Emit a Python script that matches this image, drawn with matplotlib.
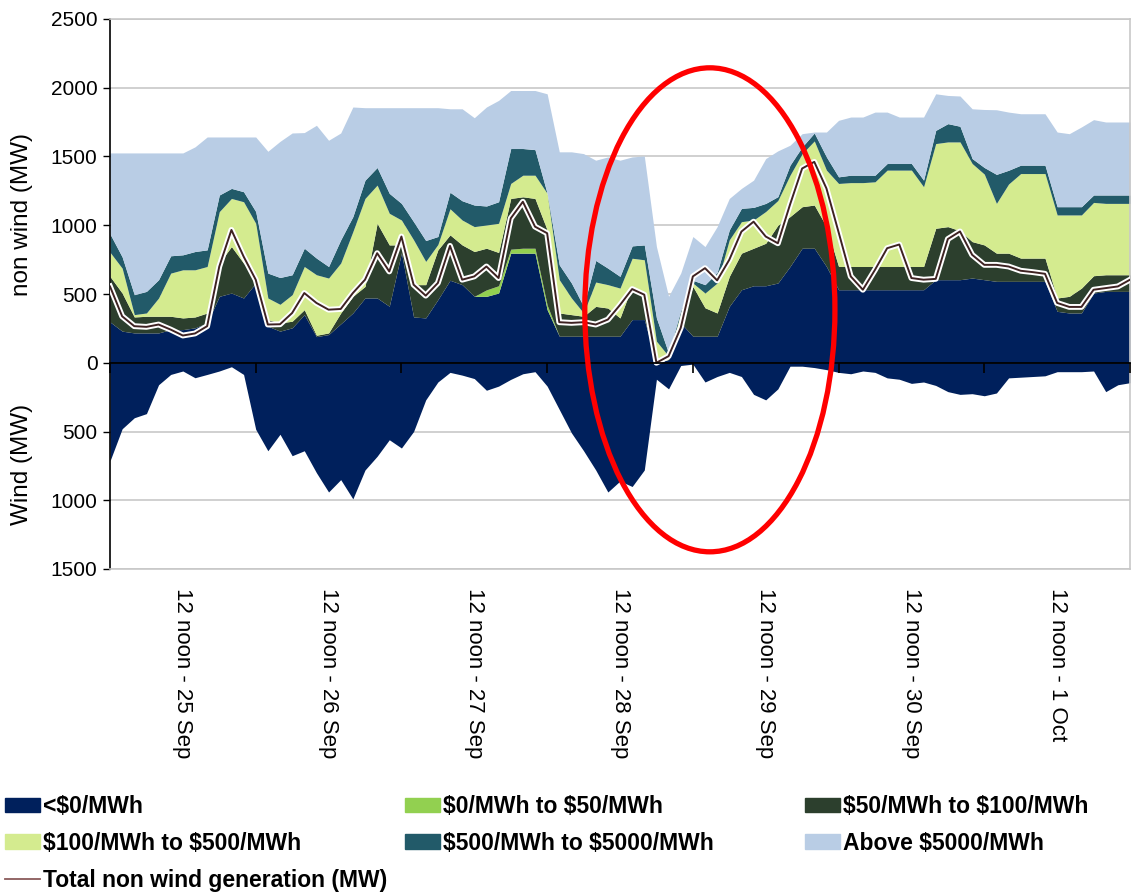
import numpy as np
import matplotlib
matplotlib.use("Agg")
import matplotlib.pyplot as plt
from matplotlib.patches import Patch, Ellipse
from matplotlib.lines import Line2D

plt.rcParams['font.family'] = ['Liberation Sans', 'DejaVu Sans']

# hours from 00:00 25 Sep, 2-hourly
hours = np.arange(0, 169, 2)

# cumulative tops of the offer bands (MW)
top_lt0 = [297,230,217,217,217,241,241,254,290,483,507,471,580,266,230,254,350,190,205,283,
           362,471,471,411,800,333,326,459,600,568,483,483,507,797,797,797,386,193,193,193,
           193,193,193,314,314,0,24,290,193,193,193,410,531,560,560,580,700,833,833,700,
           531,531,531,531,531,531,531,531,604,604,604,616,604,592,592,592,592,592,374,362,
           362,507,519,519,519]
top_0_50 = [297,230,217,217,217,241,241,254,290,483,507,471,580,266,230,254,350,190,205,283,
            362,471,471,411,800,333,326,459,600,568,483,530,560,826,833,833,420,193,193,193,
            193,193,193,314,314,0,24,290,193,193,193,410,531,560,560,580,700,833,833,700,
            531,531,531,531,531,531,531,531,604,604,604,616,604,592,592,592,592,592,374,362,
            362,507,519,519,519]
top_50_100 = [628,507,333,338,338,338,326,333,362,725,845,725,640,314,290,302,386,200,217,362,
              483,555,1014,857,857,568,568,821,930,857,809,833,802,1195,1207,1195,966,362,350,338,
              410,398,326,560,507,0,24,300,555,400,362,628,797,833,869,1000,1063,1135,1147,990,
              700,700,700,700,700,700,700,700,978,990,960,881,857,797,797,761,761,761,471,483,
              543,633,640,640,640]
top_100_500 = [804,688,350,362,471,652,676,676,700,1099,1195,1171,1014,471,425,495,700,640,616,725,
               954,1195,1292,1087,1038,894,737,860,1120,1038,990,1002,1014,1304,1364,1364,1232,604,471,362,
               587,568,543,760,749,157,48,362,580,507,580,894,1026,1038,1100,1180,1364,1521,1613,1401,
               1304,1310,1310,1316,1401,1401,1401,1280,1594,1606,1606,1449,1372,1159,1300,1376,1376,1376,1075,1075,
               1075,1166,1159,1159,1159]
top_500_5000 = [937,770,495,519,604,778,785,809,821,1220,1268,1244,1100,652,620,640,833,761,700,894,
                1063,1328,1420,1232,1159,1026,889,918,1240,1178,1147,1140,1171,1558,1558,1550,1183,712,580,410,
                744,688,628,850,857,326,70,380,600,568,657,966,1123,1130,1159,1208,1437,1570,1671,1497,
                1352,1364,1364,1364,1449,1449,1449,1328,1690,1739,1720,1485,1420,1370,1400,1437,1437,1437,1135,1135,
                1135,1220,1220,1220,1220]
top_above_5000 = [1526,1526,1526,1526,1526,1526,1526,1570,1642,1642,1642,1642,1642,1538,1610,1671,1674,1727,1618,1671,
                  1860,1855,1855,1855,1855,1855,1855,1855,1847,1847,1782,1860,1908,1980,1980,1980,1956,1534,1534,1521,
                  1473,1497,1473,1497,1504,845,483,652,918,845,990,1195,1268,1328,1485,1541,1582,1666,1678,1678,
                  1763,1787,1787,1823,1823,1787,1787,1787,1956,1944,1940,1847,1842,1840,1823,1811,1811,1811,1678,1666,
                  1715,1768,1751,1751,1751]
total_non_wind = [555,338,266,261,278,241,198,213,266,700,966,773,604,278,280,362,507,435,386,391,
                  507,604,797,664,918,568,488,580,850,604,628,700,616,1050,1171,990,942,295,290,295,
                  278,314,420,536,495,0,48,254,628,688,599,749,954,1026,918,869,1150,1413,1461,1268,
                  950,628,531,676,833,860,616,604,610,900,955,785,712,712,700,669,659,647,435,406,
                  406,531,543,555,604]
wind = [714,480,400,370,160,85,60,109,85,60,29,85,484,640,520,676,640,800,940,850,
        990,780,680,560,620,500,270,140,70,90,115,200,170,121,80,65,170,340,510,640,
        780,940,860,900,780,120,190,20,10,140,100,70,100,230,270,190,25,25,35,50,
        70,80,60,70,110,120,150,140,165,210,230,225,240,220,110,105,100,95,65,65,
        65,60,210,160,145]

band_labels = ['<$0/MWh', '$0/MWh to $50/MWh', '$50/MWh to $100/MWh',
               '$100/MWh to $500/MWh', '$500/MWh to $5000/MWh', 'Above $5000/MWh']
band_colors = ['#00205C', '#92D050', '#2C3F2D', '#D4EB8F', '#225A69', '#B9CDE5']
day_labels = ['12 noon - 25 Sep', '12 noon - 26 Sep', '12 noon - 27 Sep', '12 noon - 28 Sep',
              '12 noon - 29 Sep', '12 noon - 30 Sep', '12 noon - 1 Oct']

tops = np.array([top_lt0, top_0_50, top_50_100, top_100_500, top_500_5000, top_above_5000], float)
tops = np.maximum.accumulate(tops, axis=0)

fig = plt.figure(figsize=(11.35, 8.93), dpi=100)
ax = fig.add_axes([110/1135, 1-569/893, 1020/1135, 550/893])

lower = np.zeros(len(hours))
for top, col in zip(tops, band_colors):
    ax.fill_between(hours, lower, top, color=col, lw=0, zorder=2)
    lower = top
ax.fill_between(hours, 0, -np.array(wind, float), color=band_colors[0], lw=0, zorder=2)

ax.plot(hours, total_non_wind, color='white', lw=4.2, zorder=3, solid_joinstyle='round')
ax.plot(hours, total_non_wind, color='#3E2222', lw=1.4, zorder=4, solid_joinstyle='round')

# annotation ellipse
ax.add_patch(Ellipse((98.8, 385), 41.2, 3520, fill=False, ec='#FF0000', lw=3.8, zorder=6))

ax.set_xlim(0, 168)
ax.set_ylim(-1500, 2500)
yt = np.arange(-1500, 2501, 500)
ax.set_yticks(yt)
ax.set_yticklabels([str(abs(v)) for v in yt])
ax.grid(axis='y', color='#C8C8C8', lw=1.2)
ax.set_axisbelow(True)
ax.tick_params(axis='y', direction='out', length=5, width=1, labelsize=15, pad=4, colors='black')

# bottom axis: labels at day centres
ax.set_xticks(np.arange(0, 169, 24))
ax.set_xticklabels([])
ax.set_xticks(np.arange(12, 168, 24), minor=True)
ax.set_xticklabels(day_labels, minor=True, rotation=-90, fontsize=16)
ax.tick_params(axis='x', which='both', length=0, pad=14)

for s in ['top', 'right', 'bottom']:
    ax.spines[s].set_color('#C8C8C8')
    ax.spines[s].set_linewidth(1.2)
ax.spines['left'].set_color('black')
ax.spines['left'].set_linewidth(1.2)

# zero axis with day tick marks
sec = ax.secondary_xaxis(1500/4000)
sec.set_xticks(np.arange(0, 169, 24))
sec.set_xticklabels([])
sec.tick_params(direction='out', length=7, width=1.2, colors='black')
sec.spines['bottom'].set_color('black')
sec.spines['bottom'].set_linewidth(1.3)
sec.set_zorder(5)

ax.text(-0.086, 0.645, 'non wind (MW)', rotation=90, transform=ax.transAxes,
        ha='center', va='center', fontsize=17.5)
ax.text(-0.086, 0.19, 'Wind (MW)', rotation=90, transform=ax.transAxes,
        ha='center', va='center', fontsize=17.5)

# legend in three columns
def esc(s):
    return s.replace('$', r'\$')

patches = [Patch(color=c, label=esc(l)) for c, l in zip(band_colors, band_labels)]
line_h = Line2D([], [], color='#8A5A5A', lw=1.3, label='Total non wind generation (MW)')
cols = [([patches[0], patches[3], line_h], 5), ([patches[1], patches[4]], 405), ([patches[2], patches[5]], 805)]
for hs, x0 in cols:
    fig.legend(handles=hs, loc='upper left', bbox_to_anchor=(x0/1135, 1-795/893),
               frameon=False, borderpad=0, borderaxespad=0,
               prop={'weight': 'bold', 'size': 16.5}, handlelength=1.53, handleheight=0.6,
               handletextpad=0.13, labelspacing=0.6)

fig.savefig('out.png', dpi=100)
